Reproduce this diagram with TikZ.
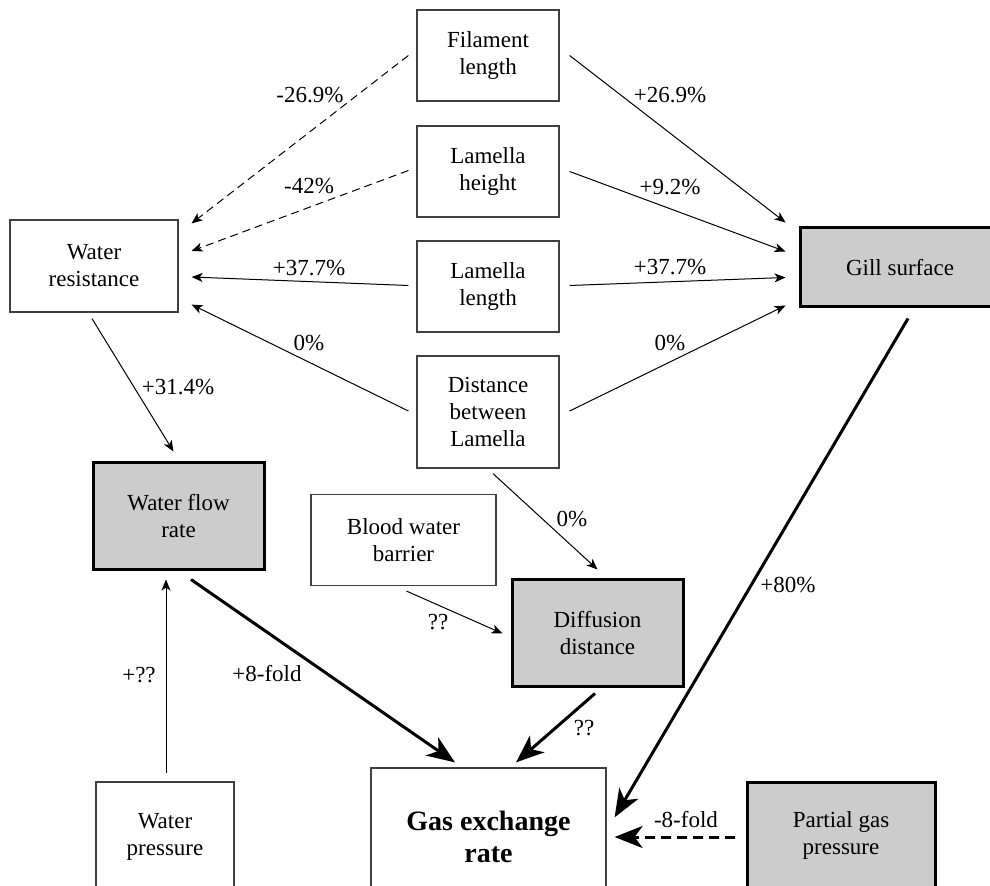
\documentclass[tikz,border=0pt]{standalone}
\usepackage{fontspec}
\setmainfont{Liberation Serif}
\usetikzlibrary{arrows.meta, calc}
\tikzset{
  box_n/.style = {rectangle, draw=black!75, line width=0.6pt, fill=white,
    align=center, inner sep=0pt, font=\fontsize{11.5}{13.5}\selectfont},
  box_g/.style = {box_n, draw=black, line width=1.5pt, fill=black!20},
  lbl/.style = {inner sep=0pt, font=\fontsize{11.5}{13.5}\selectfont},
  thin_a/.style = {-{Stealth[length=5.5pt,width=4.5pt,inset=1.5pt]}, line width=0.5pt},
  thick_a/.style = {-{Stealth[length=14pt,width=11pt,inset=4pt]}, line width=1.5pt},
  neg/.style = {dash pattern=on 4pt off 2.5pt}}

\begin{document}
\begin{tikzpicture}[x=0.5pt, y=-0.5pt]
 \useasboundingbox (0,0) rectangle (990,886);
 \clip (0,0) rectangle (990,886);

% boxes
\node [box_n, minimum width=71pt, minimum height=45.5pt] (fil) at (488,55.5) {Filament\\length};
\node [box_n, minimum width=71pt, minimum height=45.5pt] (lh) at (488,171.5) {Lamella\\height};
\node [box_n, minimum width=71pt, minimum height=45.5pt] (ll) at (488,286.5) {Lamella\\length};
\node [box_n, minimum width=71pt, minimum height=56pt] (dist) at (488,412) {Distance\\between\\Lamella};
\node [box_n, minimum width=84pt, minimum height=46pt] (wres) at (94,266) {Water\\resistance};
\node [box_g, minimum width=100pt, minimum height=39.5pt] (gill) at (900,267.5) {Gill surface};
\node [box_g, minimum width=85.5pt, minimum height=53.5pt] (wflow) at (178.5,516.5) {Water flow\\rate};
\node [box_n, minimum width=92.5pt, minimum height=45.5pt] (blood) at (403.5,540) {Blood water\\barrier};
\node [box_g, minimum width=85.5pt, minimum height=53.5pt] (diff) at (597.5,633.5) {Diffusion\\distance};
\node [box_n, minimum width=69pt, minimum height=55pt] (wpress) at (165,837) {Water\\pressure};
\node [box_n, minimum width=117.5pt, minimum height=69pt,
  font=\fontsize{14}{16}\selectfont\bfseries] (gas) at (488.5,837) {Gas exchange\\rate};
\node [box_g, minimum width=94pt, minimum height=53pt] (partial) at (841,835) {Partial gas\\pressure};

% to water resistance
\draw [thin_a, neg] ($(fil.west)+(-8,0)$) -- ($(wres.north east)+(13,4)$)
  node [lbl] at (310,95) {-26.9\%};
\draw [thin_a, neg] ($(lh.west)+(-8,-1)$) -- ($(wres.east)+(13,-15)$)
  node [lbl] at (309,186) {-42\%};
\draw [thin_a] ($(ll.west)+(-8,-1)$) -- ($(wres.east)+(13,11)$)
  node [lbl] at (309,268) {+37.7\%};
\draw [thin_a] ($(dist.west)+(-8,-1)$) -- ($(wres.south east)+(13,-8)$)
  node [lbl] at (309,343) {0\%};

% to gill surface
\draw [thin_a] ($(fil.east)+(10,0)$) -- ($(gill.north west)+(-13,-4)$)
  node [lbl] at (670,95) {+26.9\%};
\draw [thin_a] ($(lh.east)+(10,0)$) -- ($(gill.west)+(-13,-16)$)
  node [lbl] at (670,187) {+9.2\%};
\draw [thin_a] ($(ll.east)+(10,-1)$) -- ($(gill.west)+(-13,10)$)
  node [lbl] at (670,267) {+37.7\%};
\draw [thin_a] ($(dist.east)+(10,-1)$) -- ($(gill.south west)+(-13,-3)$)
  node [lbl] at (670,343) {0\%};

% middle part
\draw [thin_a] ($(wres.south)+(-2,6)$) -- ($(wflow.north)+(-5,-10)$)
  node [lbl] at (178,387) {+31.4\%};
\draw [thin_a] ($(dist.south)+(5,5)$) -- ($(diff.north)+(0,-9)$)
  node [lbl] at (572,519) {0\%};
\draw [thin_a] ($(blood.south)+(3,5)$) -- ($(diff.west)+(-8,0)$)
  node [lbl] at (438,622) {??};
\draw [thin_a] ($(wpress.north)+(1,-8)$) -- ($(wflow.south)+(-12.5,8)$)
  node [lbl] at (139,675) {+??};

% to gas exchange rate
\draw [thick_a] ($(wflow.south)+(12.5,8)$) -- ($(gas.north)+(-33.5,-5)$)
  node [lbl] at (267,674) {+8-fold};
\draw [thick_a] ($(diff.south)+(-2.5,5)$) -- ($(gas.north)+(27.5,-5)$)
  node [lbl] at (584,728) {??};
\draw [thick_a] ($(gill.south)+(8,10)$) -- ($(gas.north east)+(8,50)$)
  node [lbl] at (788,585) {+80\%};
\draw [thick_a, dash pattern=on 5pt off 3pt] ($(partial.west)+(-11,2)$) -- ($(gas.east)+(8,0)$)
  node [lbl] at (686,820) {-8-fold};
\end{tikzpicture}
\end{document}
